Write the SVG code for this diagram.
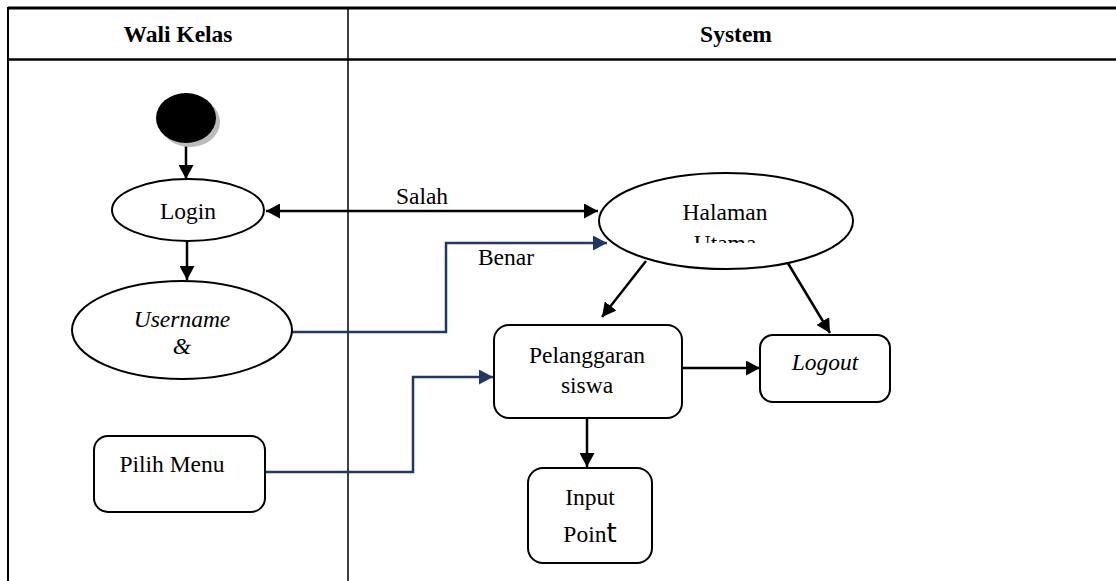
<svg xmlns="http://www.w3.org/2000/svg" width="1116" height="581" viewBox="0 0 1116 581">
<style>
.t{font-family:"Liberation Serif","Times New Roman",serif;font-size:23.5px;fill:#000;text-anchor:middle}
.h{font-weight:bold;font-size:23.5px}
.i{font-style:italic}
.shape{fill:#fff;stroke:#000;stroke-width:2}
.c{fill:none;stroke:#000;stroke-width:2.5}
.b{fill:none;stroke:#1f3864;stroke-width:2.5}
</style>
<defs>
<marker id="ak" markerUnits="userSpaceOnUse" markerWidth="15" markerHeight="15" refX="14" refY="7.5" orient="auto-start-reverse"><path d="M0,0 L14,7.5 L0,15 z" fill="#000"/></marker>
<marker id="ab" markerUnits="userSpaceOnUse" markerWidth="15" markerHeight="15" refX="14" refY="7.5" orient="auto"><path d="M0,0 L14,7.5 L0,15 z" fill="#1f3864"/></marker>
<clipPath id="clipU"><rect x="600" y="170" width="260" height="73"/></clipPath>
</defs>
<g id="table">
<line x1="8" y1="8" x2="1116" y2="8" stroke="#000" stroke-width="3"/>
<line x1="8" y1="59.5" x2="1116" y2="59.5" stroke="#000" stroke-width="2.5"/>
<line x1="8" y1="7" x2="8" y2="581" stroke="#000" stroke-width="2"/>
<line x1="348" y1="8" x2="348" y2="581" stroke="#000" stroke-width="1.5"/>
<text class="t h" x="178" y="42">Wali Kelas</text>
<text class="t h" x="736" y="42">System</text>
</g>
<g id="connectors">
<path class="c" d="M186,145 L186,179" marker-end="url(#ak)"/>
<path class="c" d="M187,241 L187,280" marker-end="url(#ak)"/>
<path class="c" d="M266,211 L598,211" marker-start="url(#ak)" marker-end="url(#ak)"/>
<path class="b" d="M292,332 L446,332 L446,243 L607,243" marker-end="url(#ab)"/>
<path class="c" d="M646,261 L602,317" marker-end="url(#ak)"/>
<path class="c" d="M786,260 L830,333" marker-end="url(#ak)"/>
<path class="c" d="M682,368 L760,368" marker-end="url(#ak)"/>
<path class="c" d="M587,418 L587,467" marker-end="url(#ak)"/>
<path class="b" d="M265,472 L413,472 L413,377 L493,377" marker-end="url(#ab)"/>
<text class="t" x="422" y="204">Salah</text>
<text class="t" x="506" y="265">Benar</text>
</g>
<g id="start">
<ellipse cx="190" cy="122" rx="30" ry="25" fill="#bbb"/>
<ellipse cx="186" cy="118" rx="30" ry="25" fill="#000"/>
</g>
<g id="login">
<ellipse class="shape" cx="188" cy="210" rx="76" ry="31"/>
<text class="t" x="188" y="219">Login</text>
</g>
<g id="username">
<ellipse class="shape" cx="182" cy="330" rx="110" ry="49"/>
<text class="t i" x="182" y="327">Username</text>
<text class="t i" x="182" y="354">&amp;</text>
</g>
<g id="pilihmenu">
<rect class="shape" x="94" y="436" width="171" height="76" rx="14"/>
<text class="t" x="172" y="472">Pilih Menu</text>
</g>
<g id="halaman">
<ellipse class="shape" cx="726" cy="221" rx="127" ry="48"/>
<text class="t" x="725" y="220">Halaman</text>
<text class="t" x="725" y="251" clip-path="url(#clipU)">Utama</text>
</g>
<g id="pelanggaran">
<rect class="shape" x="494" y="325" width="188" height="93" rx="15"/>
<text class="t" x="587" y="363">Pelanggaran</text>
<text class="t" x="587" y="393">siswa</text>
</g>
<g id="logout">
<rect class="shape" x="760" y="335" width="130" height="67" rx="13"/>
<text class="t i" x="825" y="370">Logout</text>
</g>
<g id="inputpoint">
<rect class="shape" x="528" y="468" width="124" height="95" rx="15"/>
<text class="t" x="590" y="505">Input</text>
<text class="t" x="590" y="542">Poin<tspan font-family="'DejaVu Sans',sans-serif" font-size="26">t</tspan></text>
</g>
</svg>
